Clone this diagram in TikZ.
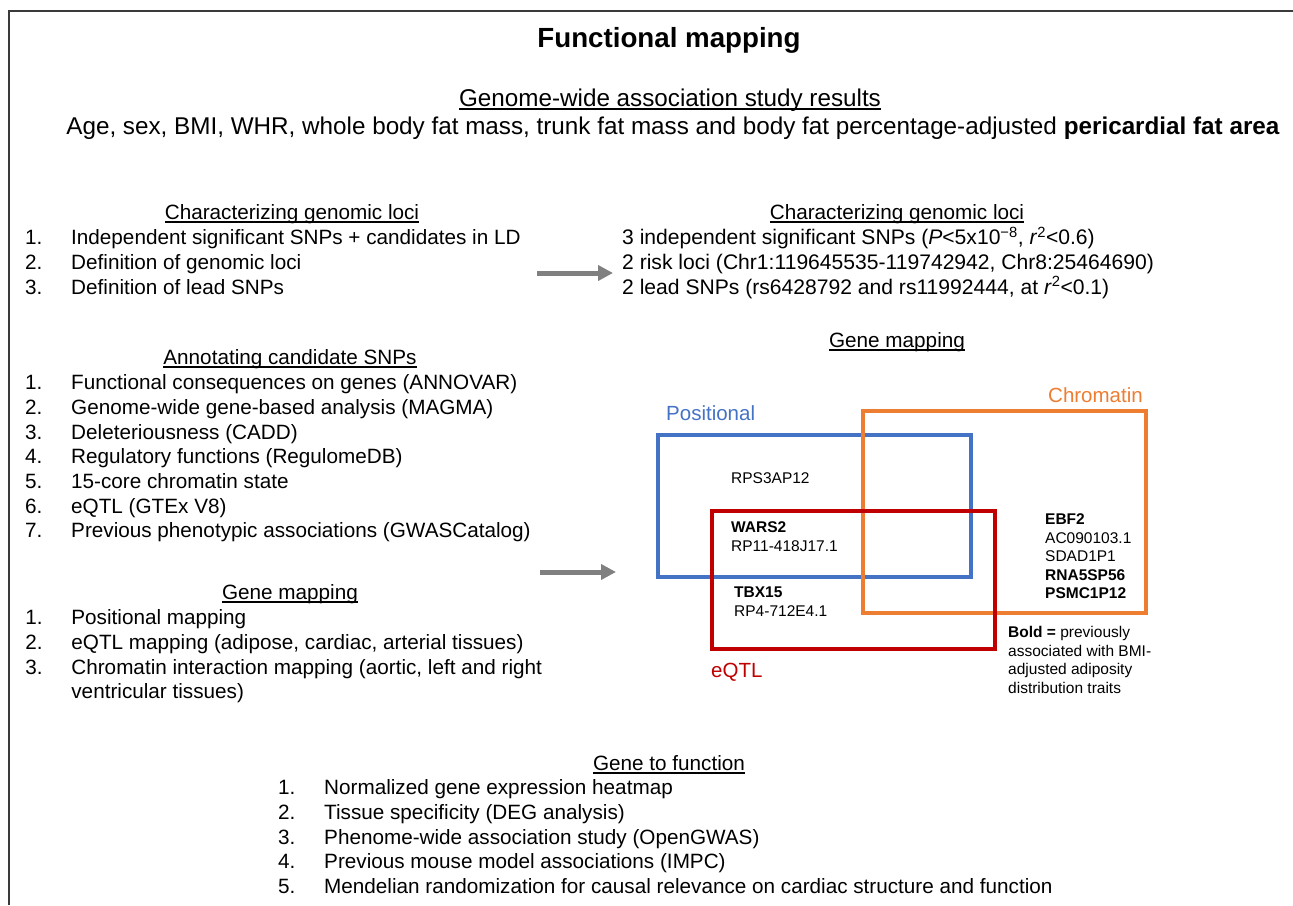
\documentclass[tikz,border=0pt]{standalone}
\usepackage{fontspec}
\setmainfont{Liberation Sans}
\usetikzlibrary{arrows.meta,
                matrix}
\definecolor{posblue}{HTML}{4472C4}
\definecolor{chromorange}{HTML}{ED7D31}
\definecolor{eqtlred}{HTML}{C00000}
\definecolor{arrowgray}{HTML}{808080}
\definecolor{framegray}{HTML}{3A3A3A}
\newcommand\bodysize{\fontsize{20.7}{24.7}\selectfont}
\newcommand\headsize{\fontsize{24.25}{28}\selectfont}
\newcommand\genesize{\fontsize{15.5}{18.5}\selectfont}
\newcommand\ulinetext[1]{\setbox0\hbox{#1}\rlap{\rule[-3pt]{\wd0}{1.4pt}}\box0}

\begin{document}
\begin{tikzpicture}[x=1pt, y=-1pt,
every node/.style = {inner sep=0pt},
      head/.style = {font=\bodysize, anchor=base},
      list/.style = {matrix of nodes, inner sep=0pt, anchor=north west,
                     nodes = {font=\bodysize, inner sep=0pt, anchor=base west,
                              text height=15pt, text depth=5pt},
                     row sep=4.7pt},
  numbered/.style = {list, column 1/.style = {nodes={text width=46pt}}},
     genes/.style = {list, nodes = {font=\genesize, text height=11pt, text depth=3.5pt},
                     row sep=4pt},
      venn/.style = {draw=#1, line width=4pt},
    vlabel/.style = {text=#1, font=\fontsize{20.5}{24}\selectfont, anchor=base west},
       fat/.style = {draw=arrowgray, line width=5pt,
                     -{Triangle[length=15pt, width=15pt]}}
                    ]
\useasboundingbox (0,0) rectangle (1293,905);
\draw[framegray, line width=2.4pt] (9,905) -- (9,11) -- (1293,11);

\node[font=\fontsize{27.7}{32}\selectfont\bfseries, anchor=base] (title) at (669,47) {Functional mapping};
\node[font=\headsize, anchor=base] (gwas) at (670,106.6) {\ulinetext{Genome-wide association study results}};
\node[font=\headsize, anchor=base] (traits) at (673,134.6)
  {Age, sex, BMI, WHR, whole body fat mass, trunk fat mass and body fat percentage-adjusted \textbf{pericardial fat area}};

\node[head] (locihead) at (292,219.5) {\ulinetext{Characterizing genomic loci}};
\matrix (locilist) [numbered] at (25,229.5)
{
1. & Independent significant SNPs + candidates in LD\\
2. & Definition of genomic loci\\
3. & Definition of lead SNPs\\
};

\node[head] (annothead) at (290,364.5) {\ulinetext{Annotating candidate SNPs}};
\matrix (annotlist) [numbered] at (25,374.5)
{
1. & Functional consequences on genes (ANNOVAR)\\
2. & Genome-wide gene-based analysis (MAGMA)\\
3. & Deleteriousness (CADD)\\
4. & Regulatory functions (RegulomeDB)\\
5. & 15-core chromatin state\\
6. & eQTL (GTEx V8)\\
7. & Previous phenotypic associations (GWASCatalog)\\
};

\node[head] (maphead) at (290,599.5) {\ulinetext{Gene mapping}};
\matrix (maplist) [numbered] at (25,609.5)
{
1. & Positional mapping\\
2. & eQTL mapping (adipose, cardiac, arterial tissues)\\
3. & Chromatin interaction mapping (aortic, left and right\\
   & ventricular tissues)\\
};

\node[head] (locireshead) at (897,219.5) {\ulinetext{Characterizing genomic loci}};
\matrix (locires) [list, nodes={font=\fontsize{21.1}{24.7}\selectfont}] at (622,229.5)
{
3 independent significant SNPs (\textit{P}<5x10\textsuperscript{−8}, \textit{r}\textsuperscript{2}<0.6)\\
2 risk loci (Chr1:119645535-119742942, Chr8:25464690)\\
2 lead SNPs (rs6428792 and rs11992444, at \textit{r}\textsuperscript{2}<0.1)\\
};

\coordinate (lociout) at (537,273);
\coordinate (lociin)  at (613,273);
\draw[fat] (lociout) -- (lociin);
\coordinate (mapout) at (540,572);
\coordinate (mapin)  at (616,572);
\draw[fat] (mapout) -- (mapin);

\node[head] (mapreshead) at (897,347.5) {\ulinetext{Gene mapping}};
\node[venn=posblue, minimum width=313pt, minimum height=142pt] (positional) at (814.5,506) {};
\node[venn=chromorange, minimum width=283pt, minimum height=202pt] (chromatin) at (1004.5,512) {};
\node[venn=eqtlred, minimum width=283pt, minimum height=138pt] (eqtl) at (853.5,580) {};
\node[vlabel=posblue] (poslabel) at (666,420.5) {Positional};
\node[vlabel=chromorange] (chromlabel) at (1048,402.5) {Chromatin};
\node[vlabel=eqtlred] (eqtllabel) at (711,677.5) {eQTL};

\matrix (posonly) [genes] at (731,472.5) {RPS3AP12\\};
\matrix (poseqtl) [genes] at (731,521.5)
{
\textbf{WARS2}\\
RP11-418J17.1\\
};
\matrix (eqtlonly) [genes] at (734,586.5)
{
\textbf{TBX15}\\
RP4-712E4.1\\
};
\matrix (chromonly) [genes] at (1045,513.5)
{
\textbf{EBF2}\\
AC090103.1\\
SDAD1P1\\
\textbf{RNA5SP56}\\
\textbf{PSMC1P12}\\
};
\matrix (boldnote) [genes] at (1008,626.5)
{
\textbf{Bold =} previously\\
associated with BMI-\\
adjusted adiposity\\
distribution traits\\
};

\node[head] (funchead) at (669,770.5) {\ulinetext{Gene to function}};
\matrix (funclist) [numbered] at (278,779.5)
{
1. & Normalized gene expression heatmap\\
2. & Tissue specificity (DEG analysis)\\
3. & Phenome-wide association study (OpenGWAS)\\
4. & Previous mouse model associations (IMPC)\\
5. & Mendelian randomization for causal relevance on cardiac structure and function\\
};
\end{tikzpicture}
\end{document}
